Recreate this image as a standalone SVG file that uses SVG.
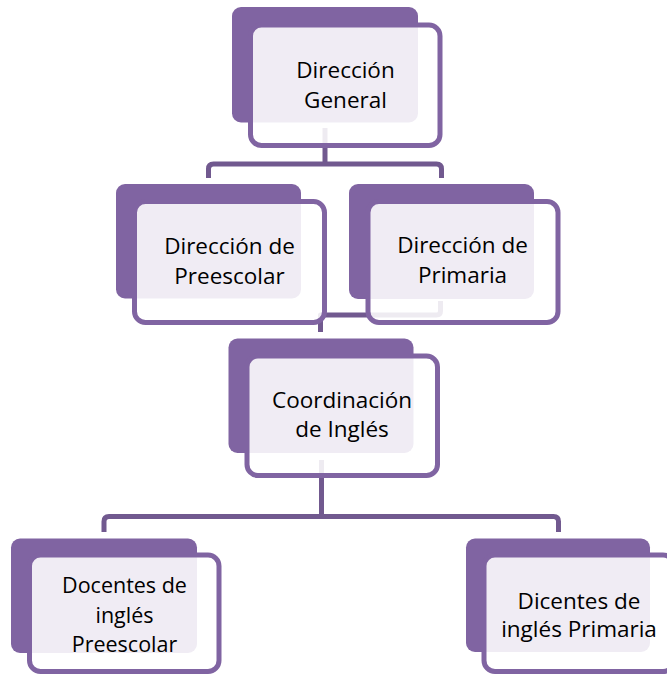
<svg xmlns="http://www.w3.org/2000/svg" width="667" height="675" viewBox="0 0 667 675">
  <style>
    .back { fill: #8064a2; }
    .front { fill: #ffffff; fill-opacity: 0.88; stroke: #8064a2; stroke-width: 5; }
    .conn { fill: none; stroke: #71598f; stroke-width: 5; stroke-linejoin: round; }
    .lbl { font-family: "Open Sans", "Noto Sans", sans-serif; font-size: 22.5px; fill: #000000; text-anchor: middle; }
    .lbl3 { font-size: 21.5px; }
  </style>
  <rect width="667" height="675" fill="#ffffff"/>
  <g id="connectors">
    <path class="conn" d="M325,128 V164"/>
    <path class="conn" d="M208.5,178 V169 Q208.5,164 213.5,164 H436.5 Q441.5,164 441.5,169 V178"/>
    <path class="conn" d="M440.5,301 V311 Q440.5,315 436.5,315 H320.5 V332"/>
    <path class="conn" d="M321.5,460 V516.5"/>
    <path class="conn" d="M104,532 V521.5 Q104,516.5 109,516.5 H553.5 Q558.5,516.5 558.5,521.5 V532"/>
  </g>
  <g id="node-direccion-general">
    <rect class="back" x="232" y="7" width="186" height="115.5" rx="9"/>
    <rect class="front" x="250.5" y="25" width="189.5" height="120.5" rx="11"/>
    <text class="lbl"><tspan x="345.5" y="78">Dirección</tspan><tspan x="345.5" y="108">General</tspan></text>
  </g>
  <g id="node-direccion-preescolar">
    <rect class="back" x="116" y="184" width="185" height="114.5" rx="9"/>
    <rect class="front" x="134.5" y="201.5" width="190" height="121" rx="11"/>
    <text class="lbl"><tspan x="229.5" y="254">Dirección de</tspan><tspan x="229.5" y="284">Preescolar</tspan></text>
  </g>
  <g id="node-direccion-primaria">
    <rect class="back" x="349" y="184" width="185" height="115" rx="9"/>
    <rect class="front" x="368" y="201.5" width="190" height="121" rx="11"/>
    <text class="lbl"><tspan x="462.5" y="253">Dirección de</tspan><tspan x="462.5" y="283">Primaria</tspan></text>
  </g>
  <g id="node-coordinacion-ingles">
    <rect class="back" x="228.5" y="338.5" width="185" height="114.5" rx="9"/>
    <rect class="front" x="247" y="356" width="190.5" height="119.5" rx="11"/>
    <text class="lbl"><tspan x="342" y="408">Coordinación</tspan><tspan x="342" y="437">de Inglés</tspan></text>
  </g>
  <g id="node-docentes-preescolar">
    <rect class="back" x="11" y="538.5" width="186" height="114.5" rx="9"/>
    <rect class="front" x="29.5" y="555" width="189.5" height="116.5" rx="11"/>
    <text class="lbl lbl3"><tspan x="124.5" y="593">Docentes de</tspan><tspan x="124.5" y="622.5">inglés</tspan><tspan x="124.5" y="652">Preescolar</tspan></text>
  </g>
  <g id="node-dicentes-primaria">
    <rect class="back" x="466" y="538.5" width="184" height="113.5" rx="9"/>
    <rect class="front" x="484" y="555" width="190" height="116.5" rx="11"/>
    <text class="lbl"><tspan x="579" y="609">Dicentes de</tspan><tspan x="579" y="637">inglés Primaria</tspan></text>
  </g>
</svg>
